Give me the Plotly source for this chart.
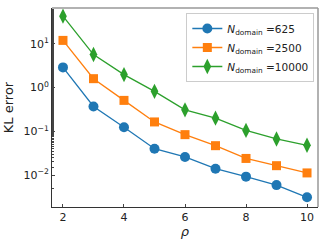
import plotly.graph_objects as go

rho = [2, 3, 4, 5, 6, 7, 8, 9, 10]
kl_625 = [2.9, 0.37, 0.124, 0.040, 0.026, 0.014, 0.0092, 0.0059, 0.0031]
kl_2500 = [12.0, 1.6, 0.51, 0.164, 0.084, 0.047, 0.024, 0.0164, 0.0112]
kl_10000 = [43.0, 5.7, 1.98, 0.82, 0.31, 0.20, 0.105, 0.067, 0.048]
ytick_vals = [0.01, 0.1, 1, 10]
ytick_text = ["10<sup>−2</sup>", "10<sup>−1</sup>", "10<sup>0</sup>", "10<sup>1</sup>"]

series = [
    ("<i>N</i><sub>domain</sub> =625", kl_625, "#1f77b4", "circle", 10),
    ("<i>N</i><sub>domain</sub> =2500", kl_2500, "#ff7f0e", "square", 9),
    ("<i>N</i><sub>domain</sub> =10000", kl_10000, "#2ca02c", "diamond-tall", 11),
]

fig = go.Figure()
for name, vals, col, sym, sz in series:
    fig.add_trace(go.Scatter(
        x=rho, y=vals, mode="lines+markers", name=name,
        line=dict(color=col, width=1.3),
        marker=dict(symbol=sym, size=sz, color=col, line=dict(width=0)),
    ))

font = dict(family="DejaVu Sans", size=11, color="#222222")
fig.update_layout(
    width=327, height=243,
    margin=dict(l=52, r=9, t=8, b=36, autoexpand=False),
    paper_bgcolor="white", plot_bgcolor="white",
    font=font,
    showlegend=True,
    legend=dict(x=0.505, y=0.975, xanchor="left", yanchor="top",
                bordercolor="#cccccc", borderwidth=1, bgcolor="white",
                font=dict(family="DejaVu Sans", size=10.5, color="#222222"),
                tracegroupgap=0, itemwidth=30),
    xaxis=dict(range=[1.64, 10.36], tickvals=[2, 4, 6, 8, 10],
               ticks="inside", ticklen=3, showgrid=False, zeroline=False,
               showline=True, linecolor="#333333", linewidth=1,
               title=dict(text="<i>ρ</i>", standoff=2)),
    yaxis=dict(type="log", range=[-2.73, 1.82],
               tickvals=ytick_vals, ticktext=ytick_text,
               ticks="inside", ticklen=3,
               minor=dict(ticks="inside", ticklen=2, showgrid=False),
               showgrid=False, zeroline=False,
               showline=True, linecolor="#333333", linewidth=1,
               title=dict(text="KL error", standoff=6)),
    shapes=[
        dict(type="line", xref="paper", yref="paper", x0=0, x1=1, y0=1, y1=1,
             line=dict(color="#999999", width=1.5)),
        dict(type="line", xref="paper", yref="paper", x0=1, x1=1, y0=0, y1=1,
             line=dict(color="#999999", width=1.5)),
    ],
)
fig.write_html("out.html", config={"displayModeBar": False},
               post_script="document.body.style.margin='0';document.body.style.overflow='hidden';")
